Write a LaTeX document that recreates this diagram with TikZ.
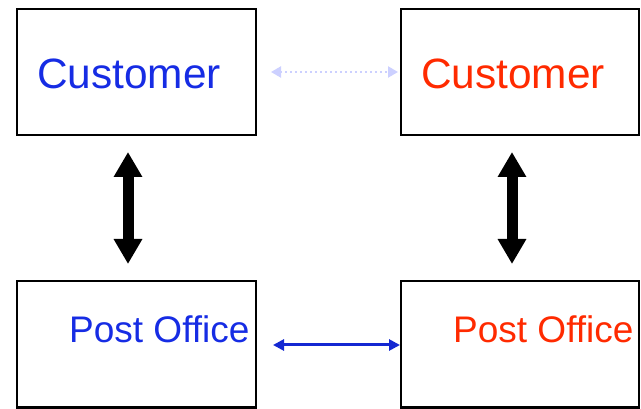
\documentclass[tikz,border=0pt]{standalone}
\usepackage{fontspec}
\setmainfont{Liberation Sans}
\usetikzlibrary{arrows.meta}
\definecolor{cblue}{RGB}{22,44,228}
\definecolor{cred}{RGB}{255,42,0}
\definecolor{clav}{RGB}{204,208,255}
\definecolor{cline}{RGB}{20,40,210}
\begin{document}
\begin{tikzpicture}[x=1pt,y=-1pt,
  box/.style={draw=black,line width=2.6pt},
  bigtxt/.style={anchor=base west,inner sep=0pt,font=\fontsize{42.4}{48}\selectfont},
  midtxt/.style={anchor=base west,inner sep=0pt,font=\fontsize{37}{44}\selectfont},
  thick arrow/.style={line width=11pt,{Triangle[width=27pt,length=25pt]}-{Triangle[width=27pt,length=25pt]}},
  dotarrow/.style={clav,line width=2.2pt,dash pattern=on 2pt off 3pt,{Triangle[width=11pt,length=10pt]}-{Triangle[width=11pt,length=10pt]}},
  bluearrow/.style={cline,line width=3pt,{Triangle[width=11pt,length=11pt]}-{Triangle[width=11pt,length=11pt]}}]
\useasboundingbox (0,0) rectangle (641,409);
\draw[box] (17,9) rectangle (256,135);
\draw[box] (401,9) rectangle (639,135);
\draw[box] (17,281) rectangle (256,407.5);
\draw[box] (401,281) rectangle (639,407.5);
\node[bigtxt,text=cblue] (c1) at (37,89) {Customer};
\node[bigtxt,text=cred] (c2) at (421,89) {Customer};
\node[midtxt,text=cblue] (p1) at (69,343) {Post Office};
\node[midtxt,text=cred] (p2) at (453,343) {Post Office};
\coordinate (v1a) at (128,152);
\coordinate (v1b) at (128,264);
\coordinate (v2a) at (512,152);
\coordinate (v2b) at (512,264);
\coordinate (h1a) at (271,72);
\coordinate (h1b) at (398,72);
\coordinate (h2a) at (273,345);
\coordinate (h2b) at (400,345);
\draw[thick arrow] (v1a) -- (v1b);
\draw[thick arrow] (v2a) -- (v2b);
\draw[dotarrow] (h1a) -- (h1b);
\draw[bluearrow] (h2a) -- (h2b);
\end{tikzpicture}
\end{document}
